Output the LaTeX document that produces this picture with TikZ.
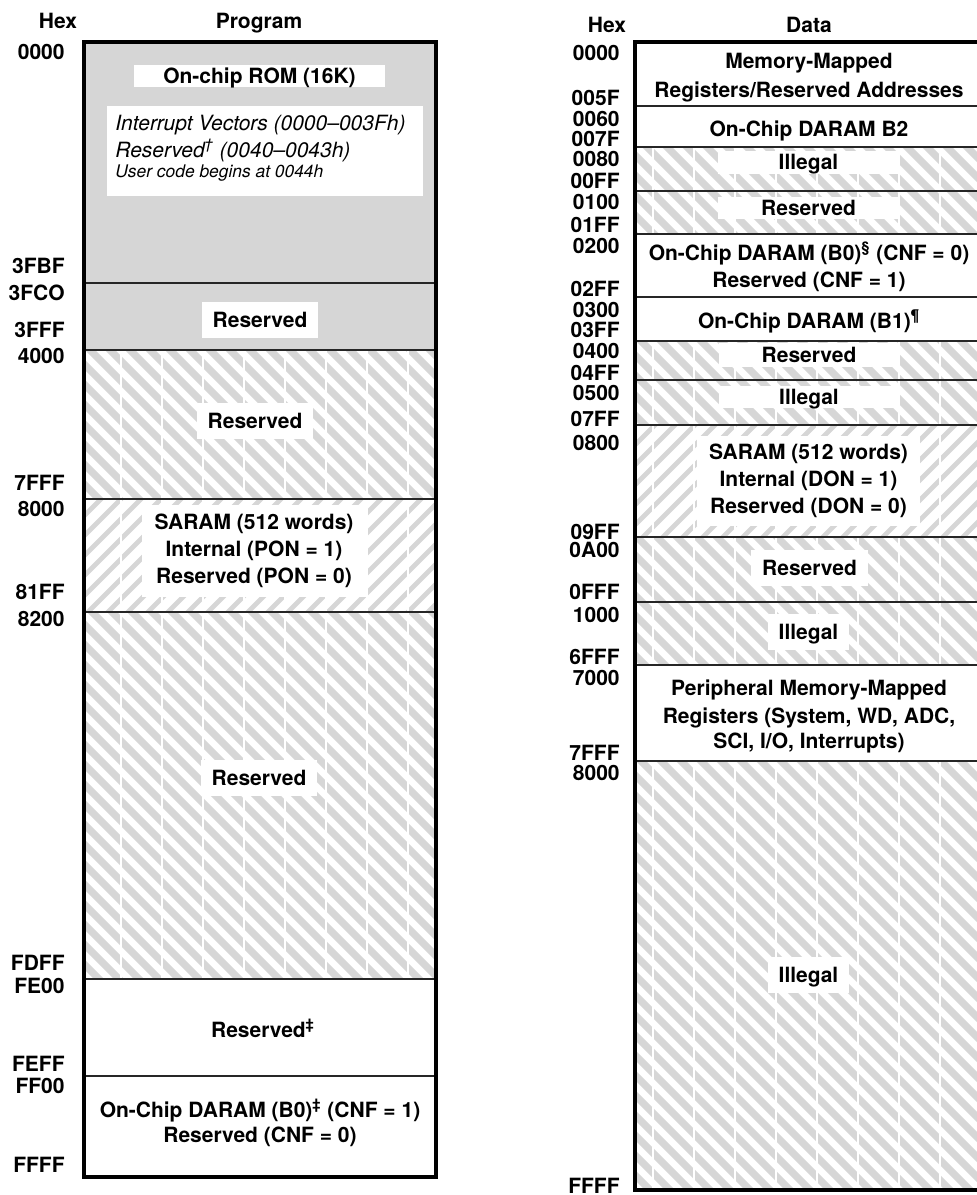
\documentclass[tikz,border=0pt]{standalone}
\usepackage{fontspec}
\setmainfont{TeX Gyre Heros}
\usepackage{tikz}
\tikzset{
  memtext/.style={font=\fontsize{10.5}{13.4}\selectfont\bfseries, inner sep=0pt},
  hexlbl/.style={memtext, anchor=base east},
  plain/.style={memtext, anchor=base},
  vecline/.style={font=\fontsize{10.5}{13}\selectfont\itshape, inner sep=0pt, anchor=base west},
  cell/.style={memtext, fill=white, inner xsep=5.5pt, text height=7.6pt, text depth=0pt, minimum height=18pt},
  cellm/.style={memtext, fill=white, align=center},
  frame/.style={line width=1.6pt},
  divider/.style={line width=0.6pt, black!85},
  rom/.style={fill=gray!32},
  stripe/.style={gray!32, line width=3.6pt},
  hatchdn/.style={path picture={\foreach \s in {-1120,-1100,...,995} \draw[stripe] (\s,0) -- (\s+1200,1200);}},
  hatchup/.style={path picture={\foreach \s in {-1120,-1100,...,995} \draw[stripe, line width=2.4pt] (\s,1200) -- (\s+1200,0);}},
  gapline/.style={white, line width=0.65pt}
}

\begin{document}
\begin{tikzpicture}[x=0.5pt, y=-0.5pt]
\useasboundingbox (0,0) rectangle (976,1195);

\fill[rom] (84,42) rectangle (436,350);
\path[hatchdn] (84,350) rectangle (436,499);
\path[hatchup] (84,499) rectangle (436,612);
\path[hatchdn] (84,612) rectangle (436,979);

\path[hatchdn] (635,147) rectangle (990,234);
\path[hatchdn] (635,341) rectangle (990,425);
\path[hatchup] (635,425) rectangle (990,537);
\path[hatchdn] (635,537) rectangle (990,665);
\path[hatchdn] (635,761) rectangle (990,1190);

\foreach \x in {121,162,...,410} \draw[gapline] (\x,350) -- (\x,979);
\foreach \x in {653,694,...,985} \draw[gapline] (\x,147) -- (\x,1190);

\foreach \y in {283,350,499,612,979,1076} \draw[divider] (84,\y) -- (436,\y);
\foreach \y in {106,147,191,234,297,341,380,425,537,602,665,761} \draw[divider] (635,\y) -- (990,\y);

\draw[frame] (84,42) rectangle (436,1177);
\draw[frame] (990,42) -- (635,42) -- (635,1190) -- (990,1190);

% program space
\node[plain] (hexP) at (58,28) {Hex};
\node[plain] (prog) at (259,28) {Program};
\foreach \y/\t in {52/0000,266/3FBF,293/3FCO,330/3FFF,356/4000,483/7FFF,509/8000,592/81FF,619/8200,963/FDFF,986/FE00,1064/FEFF,1086/FF00,1165/FFFF}
  \node[hexlbl] (p\t) at (65,\y+7) {\t};

\node[cell, minimum width=125.5pt, minimum height=11pt] (rom) at (259.5,76) {On-chip ROM (16K)};
\fill[white] (107,106) rectangle (423,196);
\node[vecline] (intvec) at (115,130.5) {Interrupt Vectors (0000–003Fh)};
\node[vecline] (resvec) at (115,157.5) {Reserved\textsuperscript{†} (0040–0043h)};
\node[vecline, font=\fontsize{8.7}{10}\selectfont\itshape] (usercode) at (115,177) {User code begins at 0044h};
\node[cell] (resP1) at (260,320) {Reserved};
\node[cell] (resP2) at (255,421) {Reserved};
\node[cellm, minimum width=112pt, minimum height=46pt] (saramP) at (254,551) {SARAM (512 words)\\Internal (PON = 1)\\Reserved (PON = 0)};
\node[cell] (resP3) at (259,778) {Reserved};
\node[plain] (resP4) at (263,1037) {Reserved\textsuperscript{‡}};
\node[plain] (b0P) at (260,1117) {On-Chip DARAM (B0)\textsuperscript{‡} (CNF = 1)};
\node[plain] (b0Pres) at (260,1142) {Reserved (CNF = 0)};

% data space
\node[plain] (hexD) at (607,32) {Hex};
\node[plain] (data) at (809,32) {Data};
\foreach \y/\t in {53/0000,98/005F,119/0060,139/007F,159/0080,181/00FF,202/0100,225/01FF,246/0200,289/02FF,310/0300,330/03FF,351/0400,373/04FF,393/0500,419/07FF,443/0800,532/09FF,550/0A00,592/0FFF,615/1000,657/6FFF,678/7000,753/7FFF,773/8000,1186/FFFF}
  \node[hexlbl] (d\t) at (620,\y+7) {\t};

\node[plain] (mmr1) at (809,68) {Memory-Mapped};
\node[plain] (mmr2) at (809,97) {Registers/Reserved Addresses};
\node[plain] (b2D) at (809,136) {On-Chip DARAM B2};
\node[cell, minimum width=90.5pt, minimum height=11.5pt] (illD1) at (808.5,162) {Illegal};
\node[cell, minimum width=90.5pt, minimum height=11pt] (resD1) at (808.5,208) {Reserved};
\node[plain] (b0D) at (809,260) {On-Chip DARAM (B0)\textsuperscript{§} (CNF = 0)};
\node[plain] (b0Dres) at (809,287) {Reserved (CNF = 1)};
\node[plain] (b1D) at (809,328) {On-Chip DARAM (B1)\textsuperscript{¶}};
\node[cell, minimum width=90.5pt, minimum height=12pt] (resD2) at (809,355) {Reserved};
\node[cell, minimum width=90.5pt, minimum height=11pt] (illD2) at (809,397) {Illegal};
\node[cellm, minimum width=111.5pt, minimum height=45pt] (saramD) at (808.5,481) {SARAM (512 words)\\Internal (DON = 1)\\Reserved (DON = 0)};
\node[cell] (resD3) at (809.5,568) {Reserved};
\node[cell] (illD3) at (808.5,632) {Illegal};
\node[plain] (per1) at (809,695) {Peripheral Memory-Mapped};
\node[plain] (per2) at (809,723) {Registers (System, WD, ADC,};
\node[plain] (per3) at (809,748) {SCI, I/O, Interrupts)};
\node[cell] (illD4) at (808.5,975) {Illegal};
\end{tikzpicture}
\end{document}
